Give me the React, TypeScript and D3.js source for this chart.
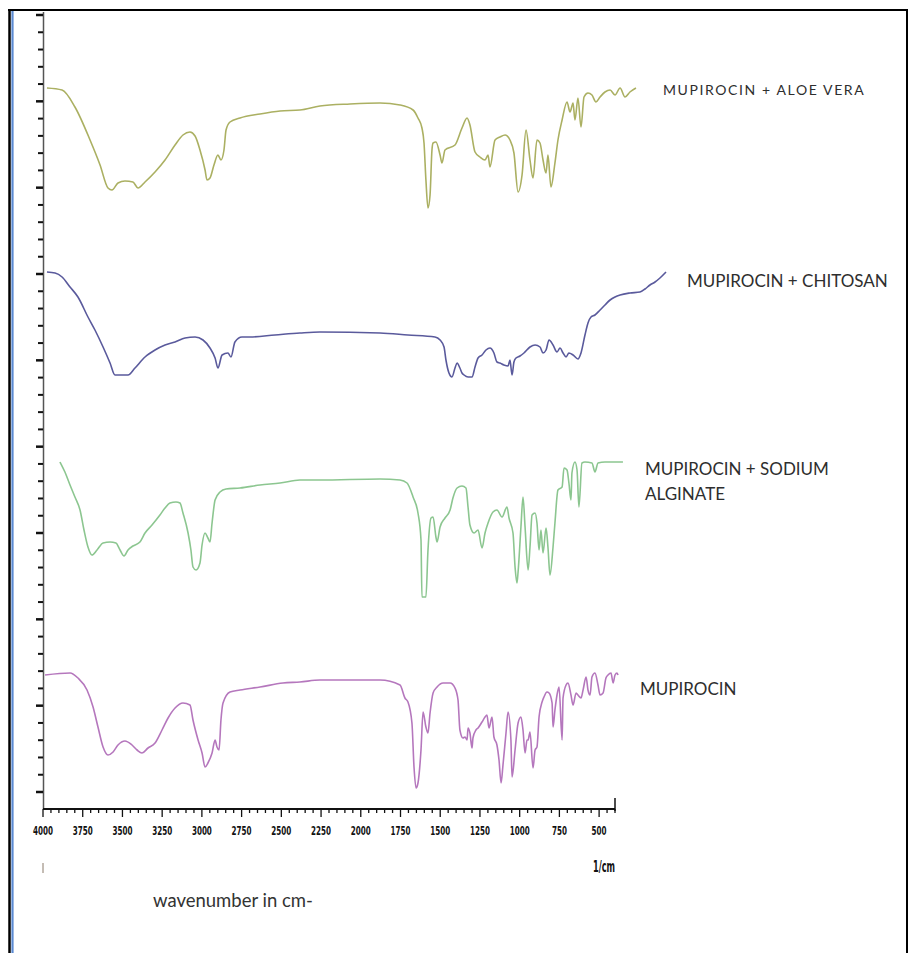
import React, { useEffect, useRef } from 'react';
import * as d3 from 'd3';

// [wavenumber in cm-1, % transmittance within its own band]
type Pt = [number, number];

const aloeVera: Pt[] = [
  [3975, 66], [3880, 65], [3799, 56.5], [3704, 40], [3641, 27.5], [3591, 16], [3566, 15], [3528, 18.5],
  [3484, 19.5], [3434, 19], [3402, 16], [3358, 19], [3295, 24], [3232, 30], [3169, 37.5], [3119, 42.5],
  [3075, 44], [3043, 42], [3012, 35], [2980, 25], [2968, 20], [2949, 21], [2924, 27.5], [2899, 32.5],
  [2880, 30], [2861, 35], [2848, 45], [2823, 49], [2760, 51], [2634, 53], [2508, 54.5], [2383, 55],
  [2257, 57], [2068, 58], [1879, 58.5], [1753, 57.5], [1671, 55], [1640, 51], [1615, 46], [1602, 38.5],
  [1590, 20], [1577, 6], [1564, 12.5], [1552, 35], [1545, 38.5], [1527, 39], [1501, 32.5], [1489, 28.5],
  [1470, 35], [1407, 37.5], [1363, 46], [1331, 51], [1313, 47.5], [1281, 34], [1250, 31.5], [1218, 30],
  [1199, 32.5], [1187, 26.5], [1155, 40], [1124, 41.5], [1092, 42.5], [1061, 40], [1036, 33.5], [1010, 14],
  [985, 22.5], [960, 45], [935, 30], [916, 21], [891, 40], [872, 38.5], [853, 30], [834, 23.5],
  [822, 32.5], [803, 16.5], [778, 28.5], [759, 40], [733, 50], [702, 59], [683, 54], [664, 58.5],
  [652, 50], [633, 61], [614, 46.5], [595, 61.5], [570, 63.5], [545, 62.5], [520, 59], [494, 61.5],
  [463, 64], [431, 65], [400, 62.5], [368, 66], [337, 61.5], [306, 64], [268, 66],
];

const chitosan: Pt[] = [
  [3975, 64], [3924, 63.5], [3880, 61.5], [3830, 56.5], [3780, 51.5], [3717, 41.5], [3673, 35], [3622, 26.5],
  [3578, 18.5], [3547, 12.5], [3465, 12.5], [3421, 16], [3358, 21.5], [3295, 25], [3232, 27.5], [3169, 29],
  [3106, 31], [3043, 31.5], [2993, 30], [2949, 26], [2917, 21], [2899, 16], [2873, 22.5], [2836, 23.5],
  [2817, 21.5], [2792, 29], [2748, 31.5], [2697, 31.5], [2540, 32.5], [2383, 33.5], [2257, 34], [1879, 33.5],
  [1703, 32.5], [1533, 31.5], [1501, 30], [1476, 26.5], [1464, 20], [1445, 13.5], [1426, 11.5], [1407, 16],
  [1394, 18.5], [1376, 16], [1363, 13.5], [1350, 12.5], [1325, 11.5], [1300, 11.5], [1281, 16.5], [1262, 21],
  [1237, 22.5], [1212, 25], [1187, 26], [1162, 23.5], [1143, 19], [1124, 18.5], [1099, 17.5], [1073, 17],
  [1061, 20], [1048, 12.5], [1036, 19], [1023, 21], [998, 22], [973, 23.5], [935, 26.5], [903, 27.5],
  [872, 26.5], [853, 23.5], [834, 25], [815, 30], [790, 27.5], [765, 24], [746, 26], [727, 23.5],
  [708, 21.5], [690, 23.5], [664, 22.5], [633, 20.5], [614, 23.5], [589, 32.5], [570, 38.5], [551, 41.5],
  [526, 42.5], [494, 45], [463, 47.5], [431, 50], [400, 51.5], [368, 52.5], [306, 53.5], [243, 54],
  [211, 55.5], [180, 57.5], [148, 59], [117, 61], [79, 64],
];

const sodiumAlginate: Pt[] = [
  [3893, 74], [3862, 69], [3830, 62.5], [3799, 56.5], [3767, 50], [3742, 40], [3717, 31.5], [3692, 27.5],
  [3660, 30], [3622, 33.5], [3578, 34], [3541, 33.5], [3515, 30], [3490, 27], [3465, 30], [3434, 32],
  [3390, 34], [3358, 38.5], [3314, 42.5], [3264, 47.5], [3232, 51], [3201, 53.5], [3163, 54], [3138, 53.5],
  [3119, 48.5], [3087, 38.5], [3069, 30], [3056, 21.5], [3037, 20], [3012, 23.5], [2999, 32.5], [2980, 38.5],
  [2962, 36], [2949, 34], [2936, 43.5], [2917, 55], [2886, 59], [2848, 60.5], [2760, 61], [2634, 62.5],
  [2508, 63.5], [2383, 65], [2257, 65], [1879, 65.5], [1753, 65], [1709, 63.5], [1671, 56.5], [1640, 48.5],
  [1621, 35], [1615, 6.5], [1590, 6.5], [1577, 30], [1558, 46], [1545, 46.5], [1527, 36.5], [1520, 34],
  [1501, 41.5], [1470, 46], [1438, 50], [1420, 56], [1394, 61], [1363, 62], [1338, 61], [1325, 51.5],
  [1313, 42.5], [1287, 38.5], [1262, 40], [1237, 31], [1218, 38.5], [1199, 43.5], [1168, 49], [1143, 50],
  [1111, 46.5], [1080, 51.5], [1067, 46], [1042, 38.5], [1029, 21.5], [1017, 13.5], [1010, 19], [992, 41.5],
  [979, 56.5], [966, 41.5], [947, 20], [935, 31.5], [922, 47.5], [903, 48.5], [891, 43.5], [878, 30],
  [866, 40], [853, 28.5], [834, 41], [822, 31.5], [809, 17.5], [790, 31.5], [778, 43.5], [759, 60],
  [733, 61.5], [721, 71], [702, 70], [690, 63.5], [677, 55], [671, 68.5], [652, 74], [639, 70],
  [627, 51.5], [608, 73.5], [589, 74], [545, 73.5], [526, 69], [507, 73.5], [463, 74], [412, 74], [350, 74],
];

const mupirocin: Pt[] = [
  [3987, 62.5], [3830, 63.5], [3780, 61], [3723, 55], [3685, 46.5], [3654, 36.5], [3622, 26.5], [3591, 22.5],
  [3559, 24], [3528, 27.5], [3484, 29.5], [3440, 27.5], [3408, 25], [3377, 23.5], [3339, 26], [3295, 28.5],
  [3251, 35], [3213, 41], [3169, 46], [3119, 48.5], [3075, 47.5], [3056, 40], [3024, 30], [2999, 23.5],
  [2980, 16.5], [2962, 18.5], [2936, 23.5], [2917, 30], [2905, 26.5], [2892, 25], [2880, 40], [2867, 48.5],
  [2823, 54], [2760, 55], [2634, 56.5], [2490, 58.5], [2383, 59], [2257, 60], [1879, 60], [1753, 57.5],
  [1722, 51], [1703, 49], [1678, 38.5], [1665, 16.5], [1652, 6], [1640, 8.5], [1621, 25], [1608, 44],
  [1590, 36.5], [1577, 33.5], [1564, 43.5], [1545, 53.5], [1520, 56.5], [1482, 58.5], [1438, 58.5], [1407, 56],
  [1388, 50], [1376, 35], [1357, 31], [1344, 31.5], [1331, 30], [1325, 36], [1313, 33.5], [1300, 26],
  [1294, 31], [1275, 35], [1262, 36], [1237, 39], [1218, 41.5], [1206, 42.5], [1193, 36], [1174, 41.5],
  [1162, 31.5], [1143, 27.5], [1130, 20], [1117, 8.5], [1105, 17.5], [1086, 33.5], [1073, 44], [1055, 30],
  [1048, 11.5], [1029, 25], [1010, 38.5], [992, 41.5], [979, 35], [966, 23.5], [954, 30], [947, 30],
  [935, 34], [916, 16], [903, 25], [891, 26.5], [878, 41.5], [859, 49], [847, 51.5], [828, 54],
  [815, 53.5], [796, 48.5], [790, 36.5], [778, 45], [765, 52.5], [752, 56.5], [733, 30], [727, 51],
  [708, 57.5], [696, 58.5], [677, 52.5], [664, 47.5], [645, 53.5], [633, 52.5], [614, 51], [601, 55],
  [582, 61.5], [570, 55], [557, 52.5], [545, 61.5], [526, 63.5], [507, 57.5], [494, 52.5], [475, 53.5],
  [457, 61], [444, 62.5], [425, 63.5], [412, 58.5], [400, 62.5], [387, 63.5], [381, 62.5],
];

const seriesLabels: string[][] = [
  ['MUPIROCIN + ALOE VERA'],
  ['MUPIROCIN + CHITOSAN'],
  ['MUPIROCIN + SODIUM', 'ALGINATE'],
  ['MUPIROCIN'],
];

const xTickLabels = [4000, 3750, 3500, 3250, 3000, 2750, 2500, 2250, 2000, 1750, 1500, 1250, 1000, 750, 500];

const W = 910;
const H = 953;
const narrow = "'Liberation Sans Narrow', 'DejaVu Sans Condensed', sans-serif";

const panels = [
  { data: aloeVera, color: '#abb062', base: 220, lx: 663, ly: 95, size: 14, spacing: 1.6 },
  { data: chitosan, color: '#5a5a9c', base: 400, lx: 687, ly: 287, size: 17, spacing: 0 },
  { data: sodiumAlginate, color: '#8cc690', base: 610, lx: 645, ly: 475, size: 17, spacing: 0 },
  { data: mupirocin, color: '#b577bd', base: 800, lx: 640, ly: 695, size: 17, spacing: 0 },
];

const App = () => {
  const ref = useRef<SVGSVGElement>(null);

  useEffect(() => {
    const svg = d3.select(ref.current);
    svg.selectAll('*').remove();

    const x = d3.scaleLinear().domain([4000, 400]).range([43, 615]);
    const axisY = 809;

    // frame
    svg.append('rect').attr('x', 0).attr('y', 0).attr('width', W).attr('height', H).attr('fill', '#fff');
    svg.append('line').attr('x1', 9.5).attr('x2', 9.5).attr('y1', 9).attr('y2', H).attr('stroke', '#000').attr('stroke-width', 2.5);
    svg.append('line').attr('x1', 12.5).attr('x2', 12.5).attr('y1', 11).attr('y2', H).attr('stroke', '#5b8ad2').attr('stroke-width', 2.2);
    svg.append('line').attr('x1', 8).attr('x2', 908).attr('y1', 10).attr('y2', 10).attr('stroke', '#000').attr('stroke-width', 2);
    svg.append('line').attr('x1', 907).attr('x2', 907).attr('y1', 9).attr('y2', H).attr('stroke', '#000').attr('stroke-width', 2);

    // left axis (stacked transmittance scale)
    const yAxis = d3.scaleLinear().domain([0, 45]).range([792, 15]);
    svg.append('line').attr('x1', 43.5).attr('x2', 43.5).attr('y1', 12).attr('y2', axisY)
      .attr('stroke', '#555').attr('stroke-width', 1.5);
    const yt = svg.append('g');
    d3.range(0, 46, 1).forEach(v => {
      const major = v % 5 === 0;
      yt.append('line')
        .attr('x1', major ? 36 : 38).attr('x2', 43)
        .attr('y1', yAxis(v)).attr('y2', yAxis(v))
        .attr('stroke', '#111').attr('stroke-width', major ? 2.5 : 2);
    });

    // bottom axis
    svg.append('line').attr('x1', x(4000)).attr('x2', x(400)).attr('y1', axisY).attr('y2', axisY)
      .attr('stroke', '#111').attr('stroke-width', 2);
    svg.append('line').attr('x1', x(400)).attr('x2', x(400)).attr('y1', axisY - 11).attr('y2', axisY + 2)
      .attr('stroke', '#111').attr('stroke-width', 1.5);
    const xt = svg.append('g');
    d3.range(4000, 399, -50).forEach(v => {
      const major = v % 250 === 0;
      xt.append('line')
        .attr('x1', x(v)).attr('x2', x(v))
        .attr('y1', axisY).attr('y2', axisY + (major ? 8 : 4))
        .attr('stroke', '#111').attr('stroke-width', 1.3);
    });
    xt.selectAll('text.tl')
      .data(xTickLabels)
      .enter()
      .append('text')
      .attr('x', d => x(d) - (d >= 1000 ? 10 : 7.5))
      .attr('y', 835)
      .attr('textLength', d => (d >= 1000 ? 20 : 15))
      .attr('lengthAdjust', 'spacingAndGlyphs')
      .style('font-family', narrow)
      .style('font-weight', 'bold')
      .style('font-size', '13px')
      .style('fill', '#111')
      .text(d => `${d}`);

    svg.append('text').attr('x', x(400) - 22).attr('y', 872)
      .attr('textLength', 22).attr('lengthAdjust', 'spacingAndGlyphs')
      .style('font-family', narrow)
      .style('font-weight', 'bold').style('font-size', '16px').style('fill', '#111')
      .text('1/cm');
    svg.append('line').attr('x1', x(4000)).attr('x2', x(4000)).attr('y1', 863).attr('y2', 873)
      .attr('stroke', '#8a7a6a').attr('stroke-width', 1);
    svg.append('text').attr('x', 153).attr('y', 907)
      .style('font-family', 'Lato, sans-serif').style('font-size', '18.5px').style('fill', '#333')
      .text('wavenumber in cm-');

    // spectra
    panels.forEach((p, i) => {
      const y = d3.scaleLinear().domain([0, 100]).range([p.base, p.base - 200]);
      const line = d3.line<Pt>()
        .x(d => x(d[0]))
        .y(d => y(d[1]))
        .curve(d3.curveMonotoneX);
      svg.append('path')
        .attr('d', line([...p.data].sort((a, b) => b[0] - a[0])))
        .attr('fill', 'none')
        .attr('stroke', p.color)
        .attr('stroke-width', 1.6)
        .attr('stroke-linejoin', 'round');

      const t = svg.append('text')
        .attr('x', p.lx)
        .attr('y', p.ly)
        .style('font-family', 'Lato, sans-serif')
        .style('font-size', `${p.size}px`)
        .style('letter-spacing', `${p.spacing}px`)
        .style('fill', '#2e2e2e');
      seriesLabels[i].forEach((s, k) => {
        t.append('tspan').attr('x', p.lx).attr('dy', k === 0 ? 0 : 25).text(s);
      });
    });
  }, []);

  return (
    <svg ref={ref} width={W} height={H} style={{ position: 'absolute', left: 0, top: 0 }}></svg>
  );
};

export default App;
